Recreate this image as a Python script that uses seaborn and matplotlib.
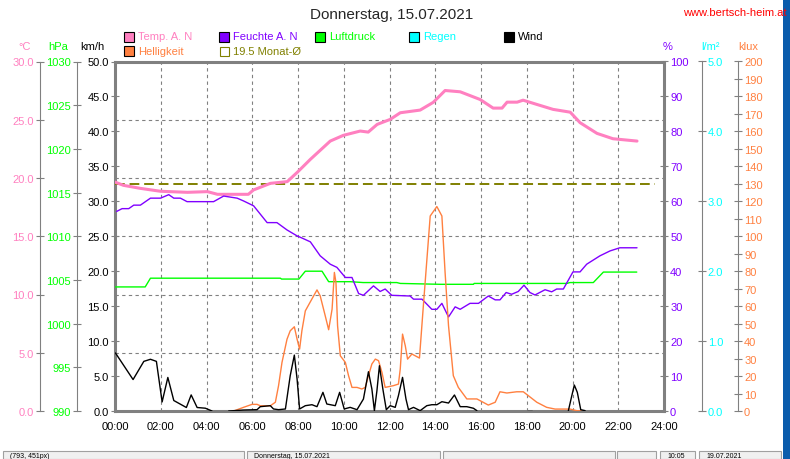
import numpy as np
import pandas as pd
import matplotlib
matplotlib.use('Agg')
import matplotlib.pyplot as plt
import seaborn as sns
from matplotlib.patches import Rectangle
from matplotlib.ticker import FormatStrFormatter

# values, time in hours since midnight
temp_h = [0.0, 0.37, 1.11, 1.99, 3.17, 4.04, 4.48, 5.83, 6.05, 6.79, 7.53, 7.97, 8.54, 9.41,
          9.98, 10.72, 11.07, 11.46, 12.03, 12.47, 13.34, 13.91, 14.43, 15.09, 15.96, 16.53,
          16.92, 17.14, 17.58, 17.84, 18.45, 19.15, 19.90, 20.33, 21.07, 21.77, 22.82]
temp_c = [19.65, 19.37, 19.11, 18.86, 18.77, 18.83, 18.6, 18.6, 18.97, 19.54, 19.69, 20.49,
          21.6, 23.17, 23.66, 24.03, 23.94, 24.6, 25.03, 25.6, 25.83, 26.49, 27.51, 27.4,
          26.74, 26.0, 26.0, 26.51, 26.51, 26.68, 26.31, 25.89, 25.65, 24.75, 23.83, 23.37, 23.17]
monat_avg = 19.5

hum_h = [0.07, 0.31, 0.60, 0.82, 1.11, 1.55, 1.99, 2.35, 2.57, 2.86, 3.15, 4.31, 4.75, 5.34,
         5.62, 6.06, 6.65, 7.08, 7.52, 7.96, 8.24, 8.54, 8.97, 9.41, 9.70, 10.07, 10.36,
         10.65, 10.86, 11.30, 11.59, 11.81, 12.10, 12.90, 13.05, 13.42, 13.85, 14.07, 14.29,
         14.58, 14.87, 15.09, 15.52, 15.89, 16.32, 16.62, 16.83, 17.10, 17.34, 17.63, 17.88,
         18.14, 18.36, 18.80, 19.09, 19.31, 19.60, 20.02, 20.33, 20.62, 21.20, 21.64, 22.07, 22.82]
hum_pct = [57.1, 57.9, 57.9, 58.9, 58.9, 60.9, 60.9, 61.9, 60.9, 60.9, 59.9, 59.9, 61.5, 60.9,
           60.1, 58.7, 53.9, 53.9, 51.8, 50.1, 49.3, 48.4, 44.4, 42.0, 41.1, 38.2, 38.2,
           33.6, 33.1, 35.8, 34.2, 34.9, 33.1, 32.9, 32.0, 32.0, 29.1, 29.1, 30.8,
           26.9, 29.8, 29.1, 30.8, 30.8, 32.9, 31.8, 31.8, 33.9, 33.4, 34.2, 36.0,
           33.9, 33.2, 34.7, 34.1, 34.9, 34.9, 39.8, 39.8, 42.0, 44.4, 45.8, 46.7, 46.7]

pres_h = [0.0, 1.32, 1.55, 7.23, 7.28, 8.04, 8.32, 9.05, 9.34, 10.28, 10.85, 12.32, 12.47,
          14.22, 15.67, 15.70, 19.75, 19.89, 20.91, 21.35, 22.81]
pres_hpa = [1004.2, 1004.2, 1005.2, 1005.2, 1005.1, 1005.1, 1006.0, 1006.0, 1004.8, 1004.8,
            1004.7, 1004.7, 1004.6, 1004.5, 1004.5, 1004.6, 1004.6, 1004.7, 1004.7, 1005.9, 1005.9]

light_h = [5.19, 5.62, 5.99, 6.21, 6.35, 6.79, 7.01, 7.15, 7.30, 7.52, 7.66, 7.84, 7.96, 8.07,
           8.17, 8.32, 8.54, 8.83, 8.97, 9.19, 9.34, 9.49, 9.59, 9.66, 9.73, 9.85, 10.07,
           10.21, 10.36, 10.58, 10.79, 10.94, 11.08, 11.23, 11.38, 11.52, 11.67, 11.81, 12.17,
           12.39, 12.47, 12.57, 12.69, 12.79, 12.98, 13.31, 13.48, 13.78, 14.07, 14.29, 14.43,
           14.58, 14.79, 15.01, 15.38, 15.82, 16.32, 16.62, 16.83, 17.13, 17.56, 17.85, 18.44,
           18.87, 19.24, 19.89, 20.18, 20.40]
light_klux = [0.0, 2.1, 3.8, 3.8, 3.0, 3.0, 5.0, 14.5, 27.8, 41.1, 45.9, 48.2, 41.1, 35.4,
              45.9, 57.3, 62.5, 69.3, 65.9, 54.5, 46.5, 58.3, 79.3, 73.5, 48.8, 31.6, 27.8,
              20.2, 13.5, 13.5, 12.6, 13.5, 20.2, 26.9, 29.7, 28.8, 22.1, 13.5, 14.5,
              15.4, 24.0, 44.0, 37.3, 29.7, 32.6, 30.3, 60.2, 111.6, 117.0, 111.6, 79.3,
              48.8, 20.2, 13.5, 6.9, 6.9, 3.4, 5.0, 11.0, 10.3, 11.0, 11.0, 5.0,
              2.1, 1.1, 1.1, 0.2, 0.0]

nan = np.nan
wind_h = [0.02, 0.79, 1.26, 1.55, 1.81, 2.06, 2.31, 2.57, 3.12, 3.33, 3.59, 3.95, 4.24, 4.6,
          4.97, 5.62, 6.21, 6.35, 6.79, 6.93, 7.15, 7.45, 7.66, 7.84, 7.96, 8.07, 8.32, 8.61,
          8.83, 9.09, 9.26, 9.63, 9.82, 10.02, 10.28, 10.58, 10.86, 11.08, 11.23, 11.34, 11.45,
          11.56, 11.71, 11.86, 12.03, 12.25, 12.39, 12.57, 12.72, 12.83, 13.05, 13.34, 13.63,
          13.85, 14.07, 14.29, 14.58, 14.84, 15.09, 15.38, 15.67, 15.82, 16.9,
          18.00, 18.22, 19.0, 19.82, 19.97, 20.08, 20.21, 20.36, 20.55]
wind_kmh = [8.3, 4.5, 7.1, 7.4, 7.1, 1.3, 4.8, 1.5, 0.5, 2.3, 0.5, 0.4, 0.0, nan,
            0.0, 0.14, 0.19, 0.62, 0.76, 0.29, 0.19, 0.29, 5.05, 8.0, 4.57, 0.29, 0.76, 0.9,
            0.62, 2.67, 1.0, 0.76, 2.67, 0.29, 0.52, 0.19, 1.71, 5.62, 3.14, 0.05, 2.9,
            6.48, 3.14, 0.19, 0.76, 0.52, 2.19, 4.81, 1.71, 0.19, 0.52, 0.05, 0.76,
            0.9, 0.9, 1.33, 1.14, 2.29, 0.62, 0.62, 0.39, 0.05, nan,
            0.0, 0.0, nan, 0.05, 2.19, 3.71, 2.67, 0.19, 0.05]

hours = list(range(0, 25, 2))
hour_labels = ['%02d:00' % h for h in hours]

PINK = '#FF80C0'
PURPLE = '#8000FF'
GREEN = '#00FF00'
CYAN = '#00FFFF'
ORANGE = '#FF8040'
OLIVE = '#808000'
GRAY = '#808080'

sns.set_style('white')
plt.rcParams['font.family'] = ['Liberation Sans', 'DejaVu Sans']
plt.rcParams['font.size'] = 8

W, H = 790, 460
fig = plt.figure(figsize=(W / 100, H / 100), dpi=100)
fig.patch.set_facecolor('white')

def fx(x):
    return x / W

def fy(y):
    return 1 - y / H

X0, X1, Y0, Y1 = 115, 664, 412, 62.5
ax = fig.add_axes([fx(X0), fy(Y0), (X1 - X0) / W, (Y0 - Y1) / H])
ax.set_facecolor('none')
for s in ax.spines.values():
    s.set_color(GRAY)
    s.set_linewidth(2.2)
ax.set_xlim(0, 24)
ax.set_ylim(0, 50)
ax.set_xticks(hours)
ax.set_xticklabels(hour_labels)
ax.set_yticks(np.arange(0, 51, 5))
ax.yaxis.set_major_formatter(FormatStrFormatter('%.1f'))
ax.tick_params(axis='x', length=0, pad=7, labelsize=8, labelcolor='black')
ax.tick_params(axis='y', direction='inout', length=5.8, width=0.8, color=GRAY,
               labelcolor='black', labelsize=8, pad=1.5)
ax.grid(axis='x', color=GRAY, linestyle=(0, (3, 3)), linewidth=0.8)
ax.grid(axis='y', visible=False)


def scale_axis(side, px, lim, ticks, fmt, color, show_spine=True):
    a = ax.twinx()
    a.set_ylim(lim)
    for s in a.spines.values():
        s.set_visible(False)
    sp = a.spines[side]
    sp.set_visible(show_spine)
    sp.set_position(('axes', (px - X0) / (X1 - X0)))
    sp.set_color(GRAY)
    sp.set_linewidth(0.8)
    a.yaxis.set_ticks_position(side)
    a.set_yticks(ticks)
    a.yaxis.set_major_formatter(FormatStrFormatter(fmt))
    a.tick_params(axis='y', direction='inout', length=5.8, width=0.8, color=GRAY,
                  labelcolor=color, labelsize=8, pad=1.5)
    a.grid(False)
    return a


ax_t = scale_axis('left', 40, (0, 30), np.arange(0, 31, 5), '%.1f', PINK)
ax_t.grid(axis='y', color=GRAY, linestyle=(0, (3, 3)), linewidth=0.8)
ax_p = scale_axis('left', 77, (990, 1030), np.arange(990, 1031, 5), '%d', GREEN)
ax_h = scale_axis('right', X1, (0, 100), np.arange(0, 101, 10), '%d', PURPLE, show_spine=False)
ax_r = scale_axis('right', 701.7, (0, 5), np.arange(0, 5.1, 1), '%.1f', CYAN)
ax_l = scale_axis('right', 738, (0, 200), np.arange(0, 201, 10), '%d', ORANGE)
ax_w = ax.twinx()
ax_w.set_ylim(0, 50)
ax_w.axis('off')

# data lines
sns.lineplot(x=pres_h, y=pres_hpa, ax=ax_p, color=GREEN, lw=1.0)
sns.lineplot(x=hum_h, y=hum_pct, ax=ax_h, color=PURPLE, lw=1.0)
sns.lineplot(x=light_h, y=light_klux, ax=ax_l, color=ORANGE, lw=1.0)
wind = pd.DataFrame({'h': wind_h, 'v': wind_kmh})
wind['seg'] = wind['v'].isna().cumsum()
wind = wind.dropna()
sns.lineplot(data=wind, x='h', y='v', units='seg', estimator=None, ax=ax_w,
             color='black', lw=1.0)
ax_t.axhline(monat_avg, xmin=0, xmax=0.983, color=OLIVE, lw=1.4, linestyle=(0, (5, 2.5)))
sns.lineplot(x=temp_h, y=temp_c, ax=ax_t, color=PINK, lw=2.2)

ax_t.set_ylim(0, 30)
ax_p.set_ylim(990, 1030)
ax_h.set_ylim(0, 100)
ax_l.set_ylim(0, 200)
ax_w.set_ylim(0, 50)
ax.set_xlim(0, 24)
for a in (ax, ax_t, ax_p, ax_h, ax_r, ax_l, ax_w):
    a.set_xlabel('')
    a.set_ylabel('')

# unit labels over the scales
for x, txt, c in [(25, '°C', PINK), (58, 'hPa', GREEN), (92, 'km/h', 'black'),
                  (668, '%', PURPLE), (710, 'l/m²', CYAN), (748, 'klux', ORANGE)]:
    fig.text(fx(x), fy(47), txt, color=c, ha='center', va='center', fontsize=8)

fig.text(fx(392), fy(15), 'Donnerstag, 15.07.2021', ha='center', va='center', fontsize=11)
fig.text(fx(683), fy(13), 'www.bertsch-heim.at', color='red', ha='left', va='center', fontsize=8)

# legend
legend = [(124, 37.5, 'Temp. A. N', PINK), (219, 37.5, 'Feuchte A. N', PURPLE),
          (315, 37.5, 'Luftdruck', GREEN), (409, 37.5, 'Regen', CYAN),
          (504, 37.5, 'Wind', 'black'), (124, 52.3, 'Helligkeit', ORANGE)]
for x, y, txt, c in legend:
    fig.add_artist(Rectangle((fx(x), fy(y + 5)), 10 / W, 10 / H, transform=fig.transFigure,
                             facecolor=c, edgecolor='black', lw=0.8))
    fig.text(fx(x + 14), fy(y), txt, color=c, ha='left', va='center', fontsize=8)
fig.add_artist(Rectangle((fx(220), fy(57)), 9 / W, 9 / H, transform=fig.transFigure,
                         facecolor='none', edgecolor=OLIVE, lw=0.8))
fig.text(fx(233), fy(52.3), '%.1f Monat-Ø' % monat_avg, color=OLIVE, ha='left',
         va='center', fontsize=8)

# window chrome: blue strip and status bar
fig.add_artist(Rectangle((fx(783), 0), 7 / W, 1, transform=fig.transFigure,
                         facecolor='#0a5cac', edgecolor='none'))
boxes = [(2.5, 244, '(793, 451px)'), (247, 440, 'Donnerstag, 15.07.2021'), (443, 615, ''),
         (617, 656, ''), (660, 695, '10:05'), (699, 781, '19.07.2021')]
for x0, x1, txt in boxes:
    fig.add_artist(Rectangle((fx(x0), 0), (x1 - x0) / W, (H - 452) / H,
                             transform=fig.transFigure, facecolor='#f0f0f0',
                             edgecolor='#a0a0a0', lw=0.8))
    if txt:
        fig.text(fx(x0 + 7), fy(456.3), txt, ha='left', va='center', fontsize=5,
                 color='black')

fig.savefig('out.png', dpi=100)
